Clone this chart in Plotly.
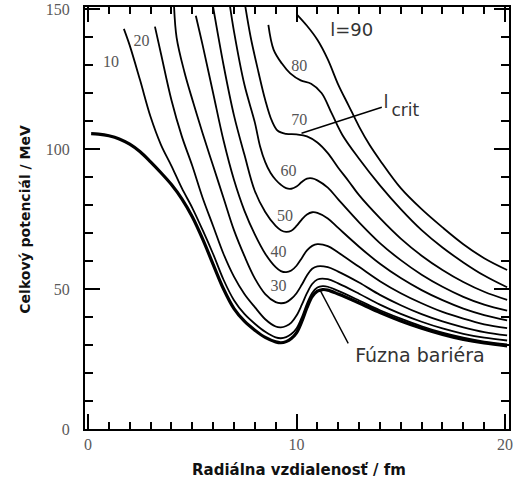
import plotly.graph_objects as go

# ---- data (r in fm, V in MeV) ----
r_l0 = [0.15, 0.5, 1.0, 1.5, 2.0, 2.5, 3.0, 3.5, 4.0, 4.5, 5.0, 5.5, 6.0, 6.5, 7.0, 7.5, 8.0, 8.5, 9.0, 9.25,
        9.5, 9.75, 10.0, 10.25, 10.5, 10.75, 11.0, 11.25, 11.5, 12.0, 13.0, 14.0, 15.0, 16.0, 17.0, 18.0, 19.0, 20.1]
v_l0 = [105.5, 105.3, 104.7, 103.6, 101.7, 99.0, 95.4, 91.5, 87.3, 82.2, 75.8, 67.8, 58.8, 50.0, 43.0, 38.5, 35.3, 32.7, 31.1, 30.8,
        31.2, 32.3, 34.3, 38.3, 43.3, 47.3, 49.2, 49.8, 49.6, 48.2, 45.0, 41.6, 38.6, 36.0, 33.8, 32.0, 30.7, 29.7]

r_l10 = [1.72, 2.0, 2.5, 3.0, 3.5, 4.0, 4.5, 5.0, 5.5, 6.0, 6.5, 7.0, 7.5, 8.0, 8.5, 9.0, 9.25, 9.5, 9.75, 10.0,
         10.25, 10.5, 10.75, 11.0, 11.25, 11.5, 12.0, 13.0, 14.0, 15.0, 16.0, 17.0, 18.0, 19.0, 20.1]
v_l10 = [142.9, 137.0, 124.5, 111.5, 101.5, 94.0, 86.0, 79.0, 71.0, 62.5, 53.3, 46.0, 41.1, 37.6, 34.7, 32.7, 32.4, 32.8, 33.9, 35.9,
         39.8, 44.7, 48.6, 50.5, 51.0, 50.8, 49.3, 45.9, 42.4, 39.4, 36.7, 34.4, 32.6, 31.2, 30.2]

r_l20 = [3.21, 3.5, 4.0, 4.5, 5.0, 5.5, 6.0, 6.5, 7.0, 7.5, 8.0, 8.5, 9.0, 9.25, 9.5, 9.75, 10.0, 10.25, 10.5, 10.75,
         11.0, 11.5, 12.0, 13.0, 14.0, 15.0, 16.0, 17.0, 18.0, 19.0, 20.1]
v_l20 = [143.7, 134.0, 117.5, 104.5, 94.0, 82.5, 72.5, 62.5, 54.4, 48.2, 43.5, 39.2, 36.6, 36.3, 36.8, 38.0, 40.5, 44.3, 48.5, 51.8,
         53.4, 53.5, 52.0, 48.3, 44.4, 41.1, 38.3, 35.9, 34.0, 32.6, 31.6]

r_l30 = [4.12, 4.25, 4.62, 5.05, 5.5, 6.0, 6.5, 7.0, 7.5, 8.0, 8.5, 9.0, 9.25, 9.5, 9.75, 10.0, 10.25, 10.5, 10.75, 11.0,
         11.5, 12.0, 13.0, 14.0, 15.0, 16.0, 17.0, 18.0, 19.0, 20.1]
v_l30 = [152.0, 139.8, 127.6, 116.5, 105.5, 94.0, 82.5, 71.0, 61.8, 53.8, 48.2, 45.3, 44.9, 45.2, 46.5, 48.5, 51.5, 54.8, 57.2, 58.1,
         57.8, 56.2, 52.3, 47.9, 44.2, 41.0, 38.4, 36.3, 34.6, 33.4]

r_l40 = [5.17, 5.5, 6.0, 6.5, 7.0, 7.5, 8.0, 8.5, 9.0, 9.25, 9.5, 9.75, 10.0, 10.25, 10.5, 10.75, 11.0, 11.5, 12.0, 13.0,
         14.0, 15.0, 16.0, 17.0, 18.0, 19.0, 20.1]
v_l40 = [147.6, 137.0, 120.0, 103.0, 89.0, 78.0, 69.5, 62.6, 57.8, 56.4, 56.0, 56.6, 58.3, 61.0, 63.8, 65.4, 66.0, 65.3, 63.0, 57.9,
         52.8, 48.5, 44.9, 41.8, 39.4, 37.4, 36.0]

r_l50 = [5.97, 6.5, 7.0, 7.5, 8.0, 8.5, 9.0, 9.25, 9.5, 9.75, 10.0, 10.25, 10.5, 10.75, 11.0, 11.5, 12.0, 13.0, 14.0, 15.0,
         16.0, 17.0, 18.0, 19.0, 20.1]
v_l50 = [152.0, 130.0, 112.0, 98.0, 85.0, 77.5, 72.5, 71.0, 70.4, 70.8, 72.5, 74.8, 76.6, 77.4, 77.2, 75.2, 71.8, 65.1, 59.0, 53.9,
         49.6, 46.0, 43.0, 40.7, 38.8]

r_l60 = [6.79, 7.0, 7.5, 8.0, 8.25, 8.5, 8.75, 9.0, 9.25, 9.5, 9.75, 10.0, 10.25, 10.5, 10.75, 11.0, 11.5, 12.0, 13.0, 14.0,
         15.0, 16.0, 17.0, 18.0, 19.0, 20.1]
v_l60 = [152.0, 142.0, 123.0, 109.5, 101.0, 95.3, 91.5, 89.0, 87.2, 86.0, 85.8, 86.6, 88.2, 89.4, 89.5, 88.8, 86.2, 82.0, 73.8, 66.4,
         60.3, 55.1, 50.8, 47.2, 44.4, 42.3]

r_l70 = [7.52, 7.8, 8.17, 8.5, 8.82, 9.1, 9.5, 10.0, 10.5, 11.0, 11.5, 12.0, 12.5, 13.0, 14.0, 15.0, 16.0, 17.0, 18.0, 19.0, 20.1]
v_l70 = [152.0, 140.0, 127.6, 117.5, 110.0, 106.5, 105.4, 105.2, 104.5, 102.3, 98.5, 93.3, 88.5, 83.5, 75.3, 68.0, 61.9, 56.8,
         52.5, 49.0, 46.1]

r_l80 = [8.65, 8.9, 9.3, 9.7, 10.2, 10.7, 11.2, 11.7, 12.2, 13.0, 14.0, 15.0, 16.0, 17.0, 18.0, 19.0, 20.1]
v_l80 = [144.3, 135.5, 130.5, 127.0, 124.5, 123.3, 120.0, 112.5, 105.0, 96.5, 87.0, 78.5, 71.0, 64.8, 59.5, 54.8, 50.6]

r_l90 = [10.02, 10.5, 11.0, 11.5, 12.0, 12.5, 13.0, 13.5, 14.0, 15.0, 16.0, 17.0, 18.0, 19.0, 20.1]
v_l90 = [148.0, 144.0, 139.0, 132.0, 123.0, 115.5, 108.0, 101.5, 96.0, 86.0, 78.5, 72.0, 66.0, 61.0, 56.8]

# curve labels (serif numbers)
curve_labels = ["10", "20", "30", "40", "50", "60", "70", "80"]
curve_label_x = [1.1, 2.57, 9.13, 9.13, 9.45, 9.61, 10.13, 10.13]
curve_label_y = [130.7, 138.3, 50.8, 62.7, 75.8, 91.9, 110.1, 129.4]

# callout texts (sans)
callout_text = ["l=90", "l", "crit", "Fúzna bariéra"]
callout_x = [12.65, 14.29, 14.55, 15.92]
callout_y = [141.9, 116.3, 113.4, 25.8]

# axis ranges and tick spacing (major, minor)
x_range = [-0.144, 20.19]
y_range = [0, 150.7]
x_major, x_minor = 10, 1
y_major, y_minor = 50, 10

# pointer lines for the two callouts: x pair, y pair
crit_pointer_x, crit_pointer_y = [10.24, 14.09], [105.6, 114.9]
barrier_pointer_x, barrier_pointer_y = [11.13, 12.48], [49.6, 30.6]

series = [
    (r_l0, v_l0, 3.2),
    (r_l10, v_l10, 1.8),
    (r_l20, v_l20, 1.8),
    (r_l30, v_l30, 1.8),
    (r_l40, v_l40, 1.8),
    (r_l50, v_l50, 1.8),
    (r_l60, v_l60, 1.8),
    (r_l70, v_l70, 1.8),
    (r_l80, v_l80, 1.8),
    (r_l90, v_l90, 1.8),
]

serif = "Liberation Serif"
sans = "DejaVu Sans"

fig = go.Figure()
for r, v, w in series:
    assert len(r) == len(v)
    fig.add_trace(go.Scatter(
        x=r, y=v, mode="lines",
        line=dict(color="black", width=w, shape="spline", smoothing=1.0),
        hoverinfo="skip", showlegend=False,
    ))

# callout pointer lines
for px, py in ((crit_pointer_x, crit_pointer_y), (barrier_pointer_x, barrier_pointer_y)):
    fig.add_trace(go.Scatter(x=px, y=py, mode="lines", line=dict(color="black", width=1.4),
                             hoverinfo="skip", showlegend=False))

# curve-number labels
fig.add_trace(go.Scatter(x=curve_label_x, y=curve_label_y, text=curve_labels, mode="text",
                         textposition="middle center", cliponaxis=False,
                         textfont=dict(family=serif, size=16, color="#555555"),
                         hoverinfo="skip", showlegend=False))

# callout labels
fig.add_trace(go.Scatter(x=callout_x, y=callout_y, text=callout_text, mode="text",
                         textposition=["middle center", "middle center", "middle right", "middle center"],
                         cliponaxis=False,
                         textfont=dict(family=sans, size=[18, 18, 17, 19], color="#333333"),
                         hoverinfo="skip", showlegend=False))

# axis titles
annotations = [
    dict(x=0.505, y=-0.097, xref="paper", yref="paper", text="<b>Radiálna vzdialenosť / fm</b>",
         showarrow=False, font=dict(family=sans, size=15, color="#111111"),
         xanchor="center", yanchor="middle"),
    dict(x=-0.1415, y=0.496, xref="paper", yref="paper", text="<b>Celkový potenciál / MeV</b>",
         showarrow=False, textangle=-90, font=dict(family=sans, size=14, color="#111111"),
         xanchor="center", yanchor="middle"),
]

fig.update_layout(
    width=513, height=481,
    margin=dict(l=85, r=4, t=7, b=52, autoexpand=False),
    paper_bgcolor="white", plot_bgcolor="white",
    showlegend=False,
    xaxis=dict(range=x_range, tickmode="linear", tick0=0, dtick=x_major, automargin=False,
               ticklabeloverflow="allow",
               ticks="inside", ticklen=15, tickwidth=2, tickcolor="black",
               showline=True, linecolor="black", linewidth=2, mirror="allticks",
               showgrid=False, zeroline=False,
               tickfont=dict(family=serif, size=16, color="#5a5a5a"),
               minor=dict(ticks="inside", ticklen=7, tickwidth=2, tickcolor="black", dtick=x_minor)),
    yaxis=dict(range=y_range, tickmode="linear", tick0=0, dtick=y_major, automargin=False,
               ticklabeloverflow="allow",
               ticks="inside", ticklen=15, tickwidth=2, tickcolor="black",
               showline=True, linecolor="black", linewidth=2, mirror="allticks",
               showgrid=False, zeroline=False, ticklabelstandoff=10,
               tickfont=dict(family=serif, size=16, color="#5a5a5a"),
               minor=dict(ticks="inside", ticklen=8, tickwidth=2, tickcolor="black", dtick=y_minor)),
    annotations=annotations,
)

fig.write_html("out.html")
